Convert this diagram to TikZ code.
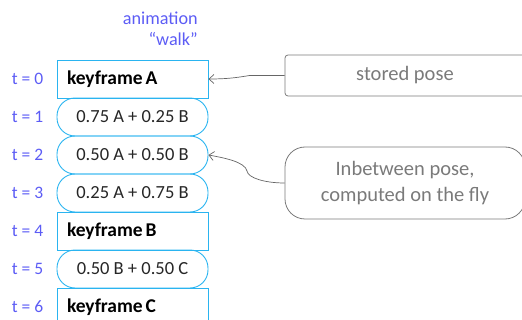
\documentclass[tikz,border=0pt]{standalone}
\usepackage{fontspec}
\setmainfont{Carlito}
\newfontfamily\keyfont{Carlito Bold}
\newcommand\kf[1]{keyframe\hspace{3pt}#1}
\usetikzlibrary{arrows.meta}
\definecolor{frameblue}{HTML}{2AB4F0}
\definecolor{labelblue}{HTML}{5C5CF5}
\definecolor{notegray}{HTML}{7A7A7A}
\definecolor{linegray}{HTML}{666666}
\definecolor{blendtext}{HTML}{262626}
\tikzset{
  keybox/.style={draw=frameblue, line width=0.9pt, minimum height=38pt,
    text width=131pt, inner xsep=10pt, inner ysep=0pt, align=left,
    font=\keyfont\fontsize{19.5}{21}\selectfont, text=black},
  blendbox/.style={draw=frameblue, line width=0.9pt, rounded corners=18pt,
    minimum height=38pt, minimum width=151pt, inner sep=0pt,
    font=\fontsize{18.5}{20}\selectfont, text=blendtext},
  timelabel/.style={text=labelblue, font=\fontsize{17.5}{20}\selectfont, inner sep=0pt},
  notebox/.style={draw=notegray, line width=0.8pt, minimum width=240pt,
    inner sep=0pt, text=notegray, align=center,
    font=\fontsize{20.5}{26}\selectfont},
  pointer/.style={draw=linegray, line width=0.7pt,
    -{Straight Barb[length=5pt,width=9pt]}}
}
\begin{document}
\begin{tikzpicture}[x=1pt,y=-1pt]
\useasboundingbox (0,0) rectangle (522,320);
\clip (0,0) rectangle (522,320);

% title of the animation
\node[text=labelblue, font=\fontsize{18.2}{21}\selectfont, align=right,
      anchor=north east, inner sep=0pt] (title) at (198,12) {animation\\``walk''};

% frame column
\node[keybox]   (f0) at (132.5,79)  {\kf{A}};
\node[blendbox] (f1) at (132.5,117) {0.75 A + 0.25 B};
\node[blendbox] (f2) at (132.5,155) {0.50 A + 0.50 B};
\node[blendbox] (f3) at (132.5,193) {0.25 A + 0.75 B};
\node[keybox]   (f4) at (132.5,231) {\kf{B}};
\node[blendbox] (f5) at (132.5,269) {0.50 B + 0.50 C};
\node[keybox]   (f6) at (132.5,307) {\kf{C}};

% time labels
\foreach \t/\y in {0/79,1/117,2/155,3/193,4/231,5/269,6/307}
  \node[timelabel] (t\t) at (27.5,\y) {t = \t};

% notes
\node[notebox, rounded corners=3pt, minimum height=41pt] (stored) at (405,75.5) {stored pose};
\node[notebox, rounded corners=20pt, minimum height=72pt] (inbetween) at (405,183)
  {Inbetween pose,\\computed on the fly};

% pointers
\draw[pointer] (stored.west) -- ++(-35,0) .. controls (240,77) and (230,79) .. (f0.east);
\draw[pointer] (inbetween.west) .. controls (265,183) and (248,178) .. (247,171)
  .. controls (245,162) and (225,158) .. (f2.east);
\end{tikzpicture}
\end{document}
